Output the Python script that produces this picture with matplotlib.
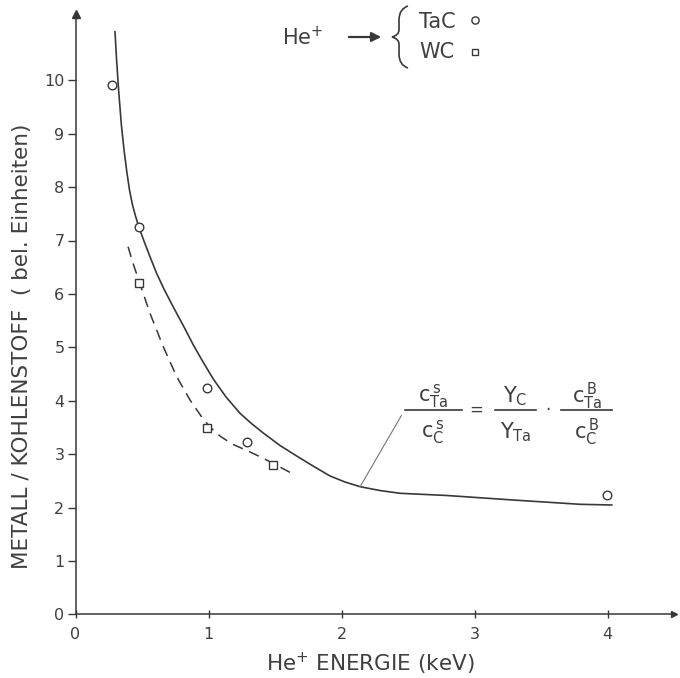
import matplotlib
matplotlib.use('Agg')
import matplotlib.pyplot as plt
from matplotlib.lines import Line2D
from matplotlib.path import Path
from matplotlib.patches import PathPatch, FancyArrowPatch

# ---- data ----
tac_energy = [0.272, 0.477, 0.986, 1.292, 3.994]
tac_ratio = [9.91, 7.25, 4.23, 3.23, 2.23]
wc_energy = [0.477, 0.991, 1.487]
wc_ratio = [6.20, 3.49, 2.80]

tac_curve_energy = [0.297, 0.308, 0.325, 0.345, 0.365, 0.386, 0.406, 0.427,
                    0.451, 0.477, 0.519, 0.560, 0.609, 0.665, 0.729, 0.808,
                    0.886, 0.959, 1.036, 1.132, 1.237, 1.327, 1.412, 1.538,
                    1.663, 1.786, 1.914, 2.026, 2.139, 2.289, 2.440, 2.791,
                    3.292, 3.793, 4.032]
tac_curve_ratio = [10.910, 10.418, 9.787, 9.163, 8.695, 8.283, 7.946, 7.683,
                   7.459, 7.247, 6.963, 6.697, 6.391, 6.092, 5.783, 5.418,
                   5.043, 4.725, 4.406, 4.069, 3.764, 3.564, 3.395, 3.161,
                   2.964, 2.777, 2.590, 2.478, 2.390, 2.318, 2.266, 2.225,
                   2.140, 2.060, 2.047]
wc_curve_energy = [0.395, 0.432, 0.477, 0.560, 0.660, 0.761, 0.861, 0.944,
                   1.011, 1.086, 1.177, 1.297, 1.412, 1.487, 1.626]
wc_curve_ratio = [6.884, 6.579, 6.242, 5.637, 5.011, 4.449, 4.013, 3.713,
                  3.507, 3.339, 3.189, 3.058, 2.921, 2.824, 2.640]

x_ticks = [0, 1, 2, 3, 4]
y_ticks = [0, 1, 2, 3, 4, 5, 6, 7, 8, 9, 10]

INK = '#383838'
TXT = '#404040'
plt.rcParams['font.family'] = ['DejaVu Sans']
plt.rcParams['mathtext.default'] = 'regular'

W, H = 680, 678
fig = plt.figure(figsize=(W / 100, H / 100), dpi=100)
fig.patch.set_facecolor('white')


def P(px, py):
    return (px / W, 1 - py / H)


x0, sx = 75.5, 133.0
y0, sy = 614.3, 53.4
xmax, ymax = 4.5, 11.25
ax = fig.add_axes([x0 / W, (H - y0) / H, xmax * sx / W, ymax * sy / H])
ax.set_xlim(0, xmax)
ax.set_ylim(0, ymax)
for s in ['top', 'right']:
    ax.spines[s].set_visible(False)
for s in ['left', 'bottom']:
    ax.spines[s].set_color(INK)
    ax.spines[s].set_linewidth(1.1)

ax.set_xticks(x_ticks)
ax.set_yticks(y_ticks)
ax.tick_params(axis='x', direction='inout', length=6, width=1, colors=INK,
               labelcolor=TXT, labelsize=11.5, pad=6)
ax.tick_params(axis='y', direction='out', length=6, width=1, colors=INK,
               labelcolor=TXT, labelsize=11.5, pad=2)

# axis arrowheads
ax.plot(0, 1, marker='^', ms=6, color=INK, transform=ax.get_xaxis_transform(),
        clip_on=False)
ax.plot(1, 0, marker='>', ms=5, color=INK, transform=ax.get_yaxis_transform(),
        clip_on=False)

# curves
ax.plot(tac_curve_energy, tac_curve_ratio, color=INK, lw=1.2, clip_on=False,
        solid_joinstyle='round')
ax.plot(wc_curve_energy, wc_curve_ratio, color=INK, lw=1.1,
        linestyle=(0, (7, 4.5)))

# data points
ax.plot(tac_energy, tac_ratio, linestyle='none', marker='o', ms=6.2,
        mfc='white', mec=INK, mew=1.0, zorder=5)
ax.plot(wc_energy, wc_ratio, linestyle='none', marker='s', ms=6.0,
        mfc='white', mec=INK, mew=1.0, zorder=5)

# leader line to the formula
ax.plot([2.14, 2.45], [2.39, 3.72], color='#777777', lw=0.8)

# axis labels
fig.text(*P(22, 346), 'METALL / KOHLENSTOFF  ( bel. Einheiten)', rotation=90,
         ha='center', va='center', fontsize=15.5, color=TXT)
fig.text(*P(370, 664), 'He$^{+}$ ENERGIE (keV)', ha='center', va='center',
         fontsize=15.5, color=TXT)

# formula
fs = 15
num_y, den_y, bar_y = 396, 432, 410
fig.text(*P(433, num_y), r'$c^{\,s}_{Ta}$', ha='center', va='center', fontsize=fs, color=TXT)
fig.text(*P(433, den_y), r'$c^{\,s}_{C}$', ha='center', va='center', fontsize=fs, color=TXT)
fig.text(*P(515.5, num_y), r'$Y_{C}$', ha='center', va='center', fontsize=fs, color=TXT)
fig.text(*P(515.5, den_y), r'$Y_{Ta}$', ha='center', va='center', fontsize=fs, color=TXT)
fig.text(*P(586.7, num_y), r'$c^{\,B}_{Ta}$', ha='center', va='center', fontsize=fs, color=TXT)
fig.text(*P(586.7, den_y), r'$c^{\,B}_{C}$', ha='center', va='center', fontsize=fs, color=TXT)
fig.text(*P(475.7, bar_y), '=', ha='center', va='center', fontsize=12, color=TXT)
fig.text(*P(547.7, bar_y), '·', ha='center', va='center', fontsize=12, color=TXT)
for xa, xb in [(405, 462), (495, 536), (561, 612)]:
    (fa, fy), (fb, _) = P(xa, bar_y), P(xb, bar_y)
    fig.add_artist(Line2D([fa, fb], [fy, fy], color=INK, lw=1.2,
                          transform=fig.transFigure))

# legend
fig.text(*P(303, 37), 'He$^{+}$', ha='center', va='center', fontsize=15, color=TXT)
fig.add_artist(FancyArrowPatch(P(346, 37), P(384, 37), transform=fig.transFigure,
                               arrowstyle='-|>', mutation_scale=14, color=INK,
                               lw=1.6))
brace_pts = [(408, 6), (399, 9), (399, 20), (399, 30), (399, 35), (392, 37),
             (399, 39), (399, 44), (399, 54), (399, 65), (408, 68)]
codes = [Path.MOVETO, Path.CURVE3, Path.CURVE3, Path.LINETO, Path.CURVE3,
         Path.CURVE3, Path.CURVE3, Path.CURVE3, Path.LINETO, Path.CURVE3,
         Path.CURVE3]
fig.add_artist(PathPatch(Path([P(*p) for p in brace_pts], codes),
                         transform=fig.transFigure, fill=False, ec=INK, lw=1.2))
fig.text(*P(419, 22), 'TaC', ha='left', va='center', fontsize=15, color=TXT)
fig.text(*P(419, 52), 'WC', ha='left', va='center', fontsize=15, color=TXT)
fig.add_artist(Line2D([P(475, 20)[0]], [P(475, 20)[1]], marker='o', ms=5.2,
                      mfc='white', mec=INK, mew=1.0, transform=fig.transFigure))
fig.add_artist(Line2D([P(475, 52)[0]], [P(475, 52)[1]], marker='s', ms=5.0,
                      mfc='white', mec=INK, mew=1.0, transform=fig.transFigure))

fig.savefig('out.png', dpi=100, facecolor='white')
